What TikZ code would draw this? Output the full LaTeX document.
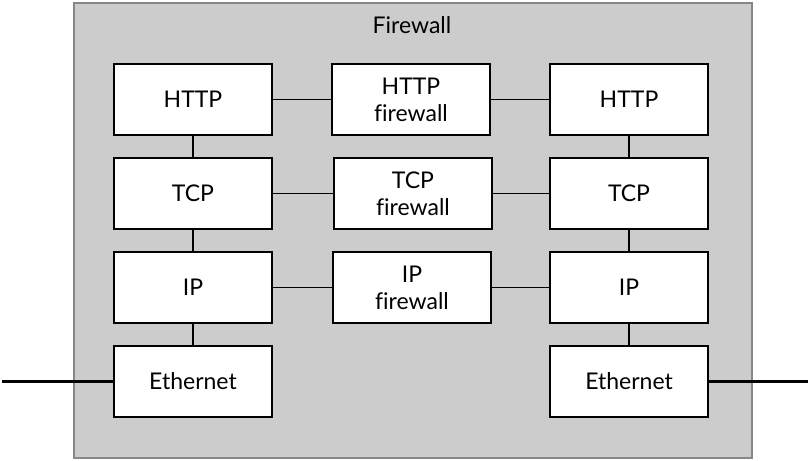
\documentclass[tikz,border=0pt]{standalone}
\usepackage{fontspec}
\setmainfont[Ligatures=NoCommon]{Lato}
\begin{document}
\begin{tikzpicture}[x=1pt,y=-1pt,
  layer/.style={draw=black,fill=white,line width=2pt,minimum width=158pt,minimum height=71pt,inner sep=0pt,align=center,font=\fontsize{23}{27}\selectfont},
  link/.style={line width=1.3pt},
  wire/.style={line width=3.5pt}]
\useasboundingbox (0,0) rectangle (810,460);
\node[draw=black!47,fill=black!20,line width=2pt,minimum width=678pt,minimum height=455pt,inner sep=0pt] (fw) at (413,230.5) {};
\node[font=\fontsize{23}{27}\selectfont] (title) at (412,25) {Firewall};
\node[layer] (lh) at (193,99.5) {HTTP};
\node[layer] (lt) at (193,193.5) {TCP};
\node[layer] (li) at (193,287.5) {IP};
\node[layer] (le) at (193,381.5) {Ethernet};
\node[layer] (mh) at (411,99.5) {HTTP\\firewall};
\node[layer] (mt) at (413,193.5) {TCP\\firewall};
\node[layer] (mi) at (412,287.5) {IP\\firewall};
\node[layer] (rh) at (629,99.5) {HTTP};
\node[layer] (rt) at (629,193.5) {TCP};
\node[layer] (ri) at (629,287.5) {IP};
\node[layer] (re) at (629,381.5) {Ethernet};
\coordinate (wl) at (2,381.5);
\coordinate (wr) at (808,381.5);
\draw[link] (lh) -- (lt);
\draw[link] (lt) -- (li);
\draw[link] (li) -- (le);
\draw[link] (rh) -- (rt);
\draw[link] (rt) -- (ri);
\draw[link] (ri) -- (re);
\draw[link] (lh) -- (mh);
\draw[link] (mh) -- (rh);
\draw[link] (lt) -- (mt);
\draw[link] (mt) -- (rt);
\draw[link] (li) -- (mi);
\draw[link] (mi) -- (ri);
\draw[wire] (wl) -- (le.west);
\draw[wire] (re.east) -- (wr);
\end{tikzpicture}
\end{document}
